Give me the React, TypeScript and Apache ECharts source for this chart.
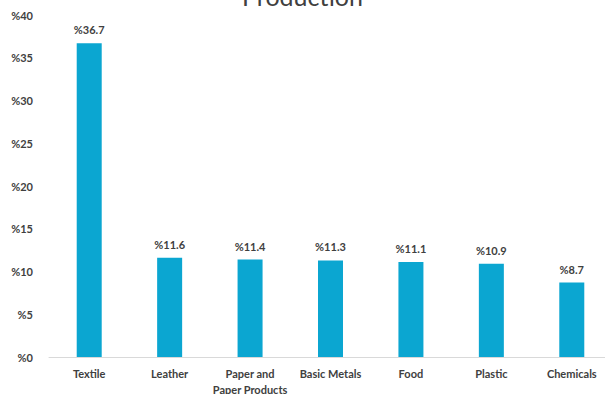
import React, { useEffect, useRef } from "react";
import * as echarts from "echarts";

const categories = ["Textile", "Leather", "Paper and\nPaper Products", "Basic Metals", "Food", "Plastic", "Chemicals"];
const values = [36.7, 11.6, 11.4, 11.3, 11.1, 10.9, 8.7];
const yTicks = [0, 5, 10, 15, 20, 25, 30, 35, 40];
const titleText = "Production";

export default function App() {
  const ref = useRef<HTMLDivElement>(null);
  useEffect(() => {
    const chart = echarts.init(ref.current!, null, { renderer: "svg" });
    const font = "Lato, 'Open Sans', sans-serif";
    chart.setOption({
      animation: false,
      title: {
        text: titleText,
        left: "center",
        top: -22,
        textStyle: { fontSize: 25, fontWeight: "normal", color: "#404040", fontFamily: font },
      },
      grid: { left: 49, right: -7, top: 15, bottom: 37, containLabel: false, outerBoundsMode: "none" },
      xAxis: {
        type: "category",
        data: categories,
        axisLine: { show: true, lineStyle: { color: "#d9d9d9", width: 1 } },
        axisTick: { show: false },
        axisLabel: {
          interval: 0,
          margin: 8,
          color: "#404040",
          fontSize: 11,
          fontWeight: "bold",
          fontFamily: font,
          lineHeight: 16,
        },
      },
      yAxis: {
        type: "value",
        min: yTicks[0],
        max: yTicks[yTicks.length - 1],
        interval: 5,
        splitLine: { show: false },
        axisLine: { show: false },
        axisTick: { show: false },
        axisLabel: {
          margin: 16,
          color: "#404040",
          fontSize: 11,
          fontWeight: "bold",
          fontFamily: font,
          formatter: (v: number) => "%" + v,
        },
      },
      series: [
        {
          type: "bar",
          data: values,
          barWidth: 25,
          itemStyle: { color: "#0ba6d1" },
          label: {
            show: true,
            position: "top",
            distance: 8,
            color: "#404040",
            fontSize: 11,
            fontWeight: "bold",
            fontFamily: font,
            formatter: (p: any) => "%" + p.value,
          },
        },
      ],
    });
    return () => chart.dispose();
  }, []);
  return <div ref={ref} style={{ width: 605, height: 394, position: "absolute", left: 0, top: 0 }} />;
}
